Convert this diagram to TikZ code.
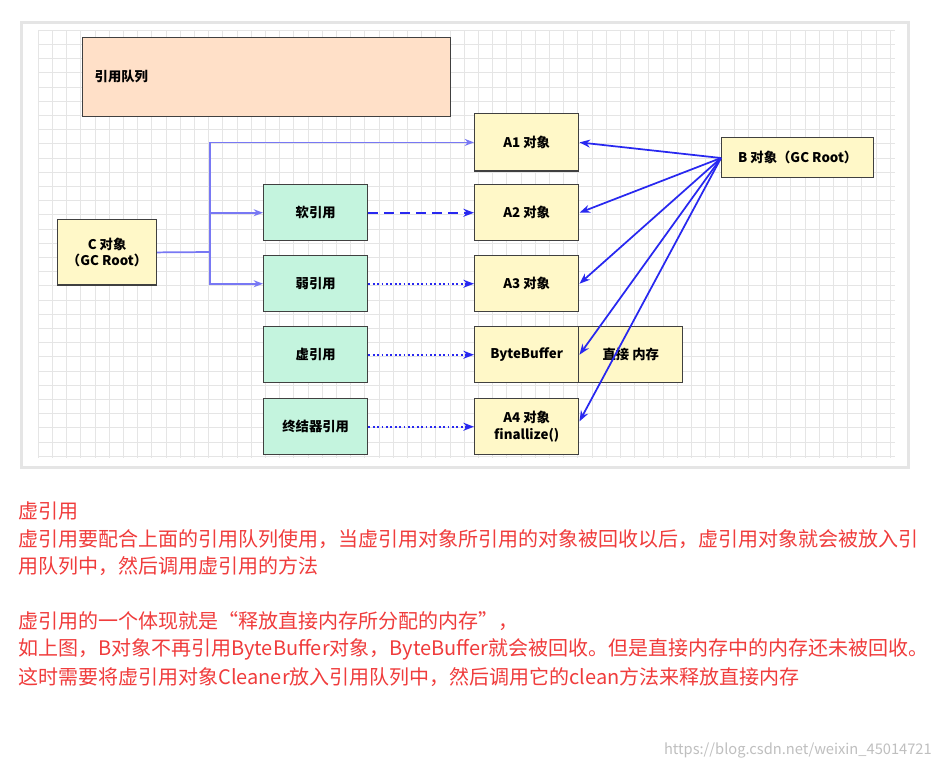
\documentclass[tikz,border=0pt]{standalone}
\usepackage{fontspec}
\setmainfont{Noto Sans CJK SC}
\usetikzlibrary{arrows.meta}
\definecolor{peach}{HTML}{FFE0C8}
\definecolor{ybox}{HTML}{FFF8C8}
\definecolor{mint}{HTML}{C4F4DE}
\definecolor{lblue}{HTML}{7878F4}
\definecolor{dblue}{HTML}{2828F0}
\definecolor{red1}{HTML}{F03C3C}
\tikzset{
 box/.style={draw=black!75,line width=1.1pt,minimum width=#1,inner sep=0pt,font=\bfseries\fontsize{10}{12.5}\selectfont,align=center,anchor=north west},
 ya/.style={box=#1,fill=ybox},
 ma/.style={box=78pt,fill=mint,minimum height=42pt},
 lc/.style={draw=lblue,line width=1.3pt,-{Stealth[length=7pt]}},
 dc/.style={draw=dblue,line width=1.3pt,-{Stealth[length=8pt]}},
 txt/.style={anchor=west,text=red1,font=\fontsize{15}{17}\selectfont,inner sep=0pt}
}
\begin{document}
\begin{tikzpicture}[x=0.75pt,y=-0.75pt]
\useasboundingbox (0,0) rectangle (939,769);
\fill[white] (0,0) rectangle (939,769);
\fill[black!10] (20,21) rectangle (910,469);
\fill[white] (23,24) rectangle (907,466);
\begin{scope}
\clip (38,30) rectangle (895,458);
\foreach \i in {0,...,61} \draw[black!10,line width=0.4pt] (38+\i*14.2,30) -- (38+\i*14.2,458);
\foreach \i in {0,...,31} \draw[black!10,line width=0.4pt] (38,30+\i*14.2) -- (895,30+\i*14.2);
\end{scope}
\node[box=276pt,fill=peach,minimum height=59pt] (q) at (82,37) {};
\node[anchor=west,font=\bfseries\fontsize{10}{12}\selectfont] (ql) at (90,77) {引用队列};
\node[ya=78pt,minimum height=43pt] (a1) at (474,113) {A1 对象};
\node[ya=78pt,minimum height=42pt] (a2) at (474,184) {A2 对象};
\node[ya=78pt,minimum height=42pt] (a3) at (474,255) {A3 对象};
\node[ya=78pt,minimum height=42pt] (bb) at (474,326) {ByteBuffer};
\node[ya=78pt,minimum height=42pt] (dm) at (578,326) {直接 内存};
\node[ya=78pt,minimum height=42pt] (a4) at (474,398) {A4 对象\\finallize()};
\node[ya=114pt,minimum height=30pt] (b) at (721,137) {B 对象（GC Root）};
\node[ya=74pt,minimum height=49pt] (c) at (57,219) {C 对象\\（GC Root）};
\node[ma] (s) at (263,184) {软引用};
\node[ma] (w) at (263,255) {弱引用};
\node[ma] (p) at (263,326) {虚引用};
\node[ma] (f) at (263,398) {终结器引用};
\coordinate (j) at (210,252);
\draw[lblue,line width=1.3pt] (c.east) -- (j);
\draw[lc] (j) |- (a1.west);
\draw[lc] (j) |- (s.west);
\draw[lc] (j) |- (w.west);
\draw[dc,dash pattern=on 7pt off 5pt] (s) -- (a2);
\draw[dc,dotted] (w) -- (a3);
\draw[dc,dotted] (p) -- (bb);
\draw[dc,dotted] (f) -- (a4);
\coordinate (bo) at (721,158);
\draw[dc] (bo) -- (a1.east);
\draw[dc] (bo) -- (a2.east);
\draw[dc] (bo) -- (a3.east);
\draw[dc] (bo) -- (bb.east);
\draw[dc] (bo) -- ([yshift=4pt]a4.east);
\node[txt] (t1) at (18,511) {虚引用};
\node[txt] (t2) at (18,539) {虚引用要配合上面的引用队列使用，当虚引用对象所引用的对象被回收以后，虚引用对象就会被放入引};
\node[txt] (t3) at (18,566) {用队列中，然后调用虚引用的方法};
\node[txt] (t4) at (18,621) {虚引用的一个体现就是“释放直接内存所分配的内存”，};
\node[txt] (t5) at (18,649) {如上图，B对象不再引用ByteBuffer对象，ByteBuffer就会被回收。但是直接内存中的内存还未被回收。};
\node[txt] (t6) at (18,677) {这时需要将虚引用对象Cleaner放入引用队列中，然后调用它的clean方法来释放直接内存};
\node[anchor=east,text=black!25,font=\fontsize{11}{12}\selectfont,inner sep=0pt] (wm) at (932,750) {https://blog.csdn.net/weixin\_45014721};
\end{tikzpicture}
\end{document}
